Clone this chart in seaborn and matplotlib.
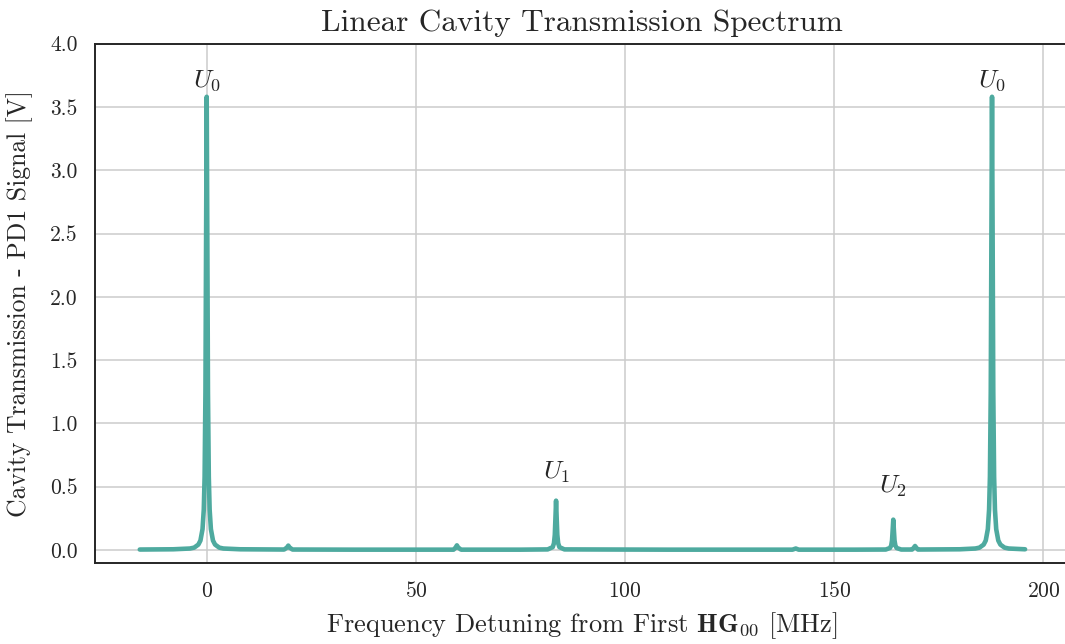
import matplotlib
matplotlib.use("Agg")
import matplotlib.pyplot as plt
import seaborn as sns
import pandas as pd

# Measured transmission trace (detuning in MHz, PD1 voltage in V)
freq = [-16.0, -8.0, -4.0, -3.0, -2.0, -1.5, -1.0, -0.7, -0.5, -0.3, -0.15, 0.0,
        0.15, 0.3, 0.5, 0.7, 1.0, 1.5, 2.0, 3.0, 4.0, 8.0,
        18.5, 19.2, 19.5, 19.8, 20.5, 35.0,
        59.0, 59.5, 59.8, 60.1, 60.8, 75.0,
        81.5, 82.7, 83.0, 83.2, 83.35, 83.5, 83.65, 83.8, 84.0, 84.3, 85.5,
        110.0, 140.0, 140.8, 141.5, 155.0,
        162.3, 163.3, 163.6, 163.8, 163.95, 164.1, 164.25, 164.4, 164.6, 164.9, 166.0,
        168.6, 169.0, 169.3, 169.6, 170.0,
        180.0, 183.7, 184.7, 185.7, 186.2, 186.7, 187.0, 187.2, 187.4, 187.55, 187.7,
        187.85, 188.0, 188.2, 188.4, 188.7, 189.2, 189.7, 190.7, 191.7, 195.6]
signal = [0.004, 0.006, 0.012, 0.019, 0.043, 0.075, 0.165, 0.32, 0.58, 1.25, 2.44, 3.58,
          2.44, 1.25, 0.58, 0.32, 0.165, 0.075, 0.043, 0.019, 0.012, 0.006,
          0.004, 0.02, 0.035, 0.02, 0.004, 0.003,
          0.003, 0.02, 0.037, 0.02, 0.003, 0.003,
          0.005, 0.023, 0.054, 0.12, 0.25, 0.39, 0.25, 0.12, 0.054, 0.023, 0.005,
          0.003, 0.003, 0.012, 0.003, 0.003,
          0.004, 0.016, 0.035, 0.075, 0.155, 0.24, 0.155, 0.075, 0.035, 0.016, 0.004,
          0.004, 0.018, 0.032, 0.018, 0.004,
          0.006, 0.012, 0.019, 0.043, 0.075, 0.165, 0.32, 0.58, 1.25, 2.44, 3.58,
          2.44, 1.25, 0.58, 0.32, 0.165, 0.075, 0.043, 0.019, 0.012, 0.006]

# Mode labels
mode_labels = [r"$U_0$", r"$U_1$", r"$U_2$", r"$U_0$"]
mode_freq = [0.0, 83.5, 164.1, 187.7]
mode_label_y = [3.71, 0.61, 0.50, 3.71]

x_ticks = [0, 50, 100, 150, 200]
y_ticks = [0.0, 0.5, 1.0, 1.5, 2.0, 2.5, 3.0, 3.5, 4.0]

sns.set_theme(style="whitegrid")
plt.rcParams.update({
    "font.family": "cmr10",
    "mathtext.fontset": "cm",
    "axes.formatter.use_mathtext": True,
    "axes.edgecolor": ".15",
    "axes.linewidth": 1.4,
    "grid.color": ".8",
    "grid.linewidth": 1.1,
    "text.color": ".15",
    "axes.labelcolor": ".15",
    "xtick.color": ".15",
    "ytick.color": ".15",
})

df = pd.DataFrame({"freq": freq, "signal": signal})

W, H = 1065, 644
fig = plt.figure(figsize=(W / 100, H / 100), dpi=100)
ax = fig.add_axes([95 / W, (H - 562.7) / H, (1069 - 95) / W, (562.7 - 43.6) / H])

sns.lineplot(data=df, x="freq", y="signal", ax=ax, color="#4eaa9f",
             linewidth=3.3, estimator=None, sort=False)

for lab, fx, fy in zip(mode_labels, mode_freq, mode_label_y):
    ax.text(fx, fy, lab, ha="center", va="center", fontsize=18.5)

ax.set_xlim(-26.7, 206.1)
ax.set_ylim(-0.1, 4.0)
ax.set_xticks(x_ticks)
ax.set_yticks(y_ticks)
ax.set_yticklabels([f"{v:.1f}" for v in y_ticks])
ax.tick_params(labelsize=15.5, length=0)
ax.tick_params(axis="x", pad=13.5)
ax.tick_params(axis="y", pad=12.5)
ax.spines["right"].set_visible(False)

ax.set_title("Linear Cavity Transmission Spectrum", fontsize=22.5, pad=9)
ax.set_xlabel(r"Frequency Detuning from First $\mathbf{HG}_{00}$ [MHz]", fontsize=19, labelpad=6)
ax.set_ylabel("Cavity Transmission - PD1 Signal [V]", fontsize=18.5, labelpad=12)

fig.savefig("out.png", dpi=100)
